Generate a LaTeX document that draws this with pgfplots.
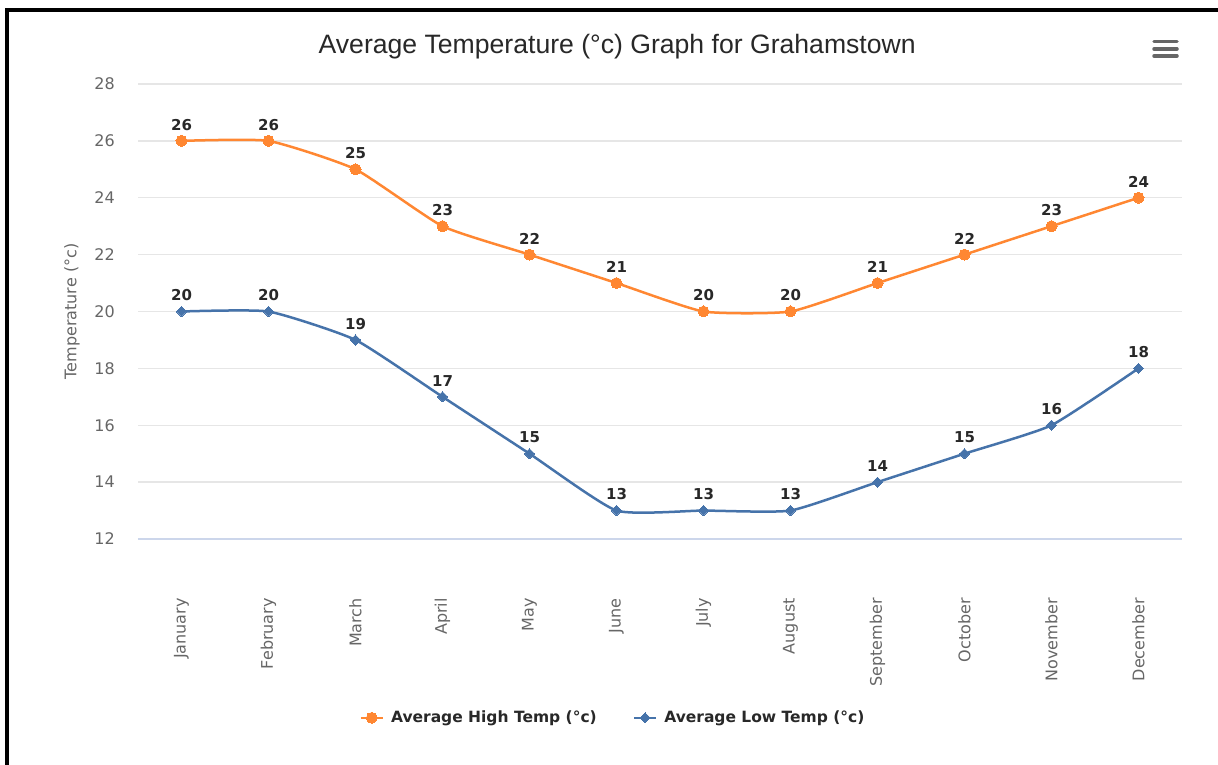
\documentclass[border=0pt]{standalone}
\usepackage{fontspec}
\setmainfont{DejaVu Sans}
\newfontfamily\titlefont{Liberation Sans}
\usepackage{pgfplots}
\pgfplotsset{compat=1.18}
\definecolor{hiorange}{RGB}{255,135,50}
\definecolor{loblue}{RGB}{70,115,170}
\definecolor{gridgray}{RGB}{230,230,230}
\definecolor{axisline}{RGB}{204,214,235}
\definecolor{ticktext}{RGB}{102,102,102}
\definecolor{darktext}{RGB}{40,40,40}
\begin{document}
\begin{tikzpicture}
\path[use as bounding box] (-138pt,-226pt) rectangle (1080pt,539pt);
\fill[black] (-133pt,-226pt) rectangle (-129pt,531pt);
\fill[black] (-133pt,531pt) rectangle (1080pt,527pt);
\begin{axis}[
  at={(0pt,0pt)}, anchor=south west,
  scale only axis, width=1044pt, height=455pt,
  xmin=-0.5, xmax=11.5, ymin=12, ymax=28,
  ytick={12,14,...,28},
  xtick={0,...,11},
  xticklabels={January,February,March,April,May,June,July,August,September,October,November,December},
  /pgf/number format/assume math mode=true,
  axis x line*=bottom, axis y line*=left,
  x axis line style={draw=axisline, line width=1.2pt},
  y axis line style={draw=none},
  major tick length=0pt,
  ymajorgrids, major grid style={draw=gridgray, line width=1.3pt},
  yticklabel style={font=\fontsize{16}{16}\selectfont, text=ticktext, anchor=east, inner sep=0pt, xshift=-23pt},
  xticklabel style={font=\fontsize{16}{16}\selectfont, text=ticktext, rotate=90, anchor=east, inner sep=0pt},
  xticklabel shift=59pt,
  ylabel={Temperature (°c)},
  ylabel style={at={(axis description cs:-0.0632,0.5)}, anchor=center, font=\fontsize{16}{16}\selectfont, text=ticktext},
  title={Average Temperature (°c) Graph for Grahamstown},
  title style={at={(axis description cs:0.459,1.068)}, anchor=center, font=\titlefont\fontsize{26.6}{27}\selectfont, text=darktext},
  nodes near coords,
  every node near coord/.append style={font=\bfseries\fontsize{15}{15}\selectfont, text=darktext, anchor=south, inner sep=0pt, yshift=10.5pt},
  legend columns=2,
  legend style={at={(axis description cs:0.455,-0.393)}, anchor=center, draw=none, fill=none,
    font=\bfseries\fontsize{15.5}{15.5}\selectfont, text=darktext,
    /tikz/every odd column/.append style={column sep=5pt},
    /tikz/every even column/.append style={column sep=34pt}},
  legend image code/.code={\draw[mark repeat=2,mark phase=2] plot coordinates {(0pt,0pt) (11pt,0pt) (22pt,0pt)};},
  clip=false,
]
\addplot[hiorange, line width=2.5pt, smooth, tension=0.3, mark=*, mark size=5.5pt, mark options={solid, fill=hiorange, draw=hiorange, line width=0pt}]
  coordinates {(0,26) (1,26) (2,25) (3,23) (4,22) (5,21) (6,20) (7,20) (8,21) (9,22) (10,23) (11,24)};
\addlegendentry{Average High Temp (°c)}
\addplot[loblue, line width=2.5pt, smooth, tension=0.3, mark=square*, mark size=3.6pt, mark options={solid, rotate=45, fill=loblue, draw=loblue, line width=0pt}]
  coordinates {(0,20) (1,20) (2,19) (3,17) (4,15) (5,13) (6,13) (7,13) (8,14) (9,15) (10,16) (11,18)};
\addlegendentry{Average Low Temp (°c)}
\end{axis}
\draw[ticktext, line width=3.5pt, line cap=round] (1016pt,497.5pt) -- (1039pt,497.5pt);
\draw[ticktext, line width=3.5pt, line cap=round] (1016pt,490pt) -- (1039pt,490pt);
\draw[ticktext, line width=3.5pt, line cap=round] (1016pt,483pt) -- (1039pt,483pt);
\end{tikzpicture}
\end{document}
